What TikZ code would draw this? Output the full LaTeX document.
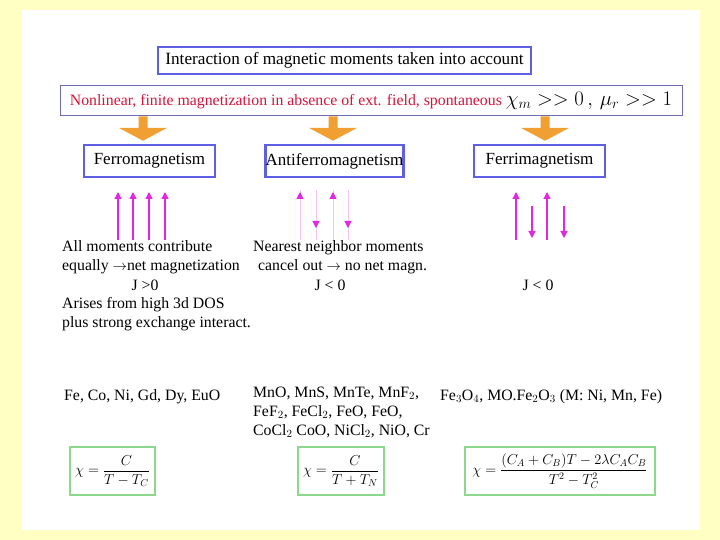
\documentclass[tikz,border=0pt]{standalone}
\usepackage{amsmath}
\usepackage{fontspec}
\setmainfont{Liberation Serif}
\usetikzlibrary{arrows.meta,calc,positioning}
\definecolor{pagebg}{HTML}{FFFFC4}
\definecolor{boxblue}{HTML}{5F5FE6}
\definecolor{framegray}{HTML}{6C6CB4}
\definecolor{redtext}{HTML}{D4143C}
\definecolor{fatorange}{HTML}{F0A032}
\definecolor{spinpink}{HTML}{E028E0}
\definecolor{spinpale}{HTML}{F2C6F2}
\definecolor{formgreen}{HTML}{8CD88C}

\begin{document}
\begin{tikzpicture}[x=1pt, y=-1pt,
  font=\fontsize{15.8}{19}\selectfont,
  spintip/.style={-{Triangle[width=7pt, length=7pt, color=spinpink]}},
  headbox/.style={draw=boxblue, line width=2.5pt, fill=white, inner sep=1pt,
    minimum height=27pt, font=\fontsize{17.2}{19}\selectfont},
  linebox/.style={draw=framegray, line width=1pt, fill=white, inner sep=1pt,
    minimum height=30pt, font=\fontsize{15.8}{18}\selectfont},
  kindbox/.style={draw=boxblue, line width=2.5pt, fill=white, inner sep=0pt,
    minimum height=32pt, font=\fontsize{17}{19}\selectfont},
  formbox/.style={draw=formgreen, line width=1.3pt, fill=white, inner sep=1pt,
    minimum height=48pt, font=\fontsize{14.5}{16}\selectfont},
  note/.style={align=left, inner sep=0pt},
  ferrospin/.style={draw=spinpink, line width=1.3pt, spintip},
  palespin/.style={draw=spinpale, line width=1pt}
]

% page
\fill[pagebg] (0,0) rectangle (720,540);
\fill[white] (22,10) rectangle (700,530);

% heading and general statement
\node[headbox, minimum width=373pt] (head) at (344.5,60.5) {Interaction of magnetic moments taken into account};
\node[linebox, minimum width=622pt] (nonlin) at (371,101)
  {\textcolor{redtext}{Nonlinear, finite magnetization in absence of ext. field, spontaneous}\ {\fontsize{19.5}{20}\selectfont$\chi_m >> 0\,,\, \mu_r >> 1$}};

% three kinds
\node[kindbox, minimum width=131pt] (ferro) at (149.5,161) {Ferromagnetism};
\node[kindbox, minimum width=137pt] (anti) at (334.5,161) {Antiferromagnetism};
\node[kindbox, minimum width=131pt] (ferri) at (539.5,161) {Ferrimagnetism};

% fat orange arrows
\foreach \x/\b in {143/ferro, 333/anti, 545/ferri}{
  \path (\x,0 |- nonlin.south) coordinate (top) (\x,0 |- \b.north) coordinate (bot);
  \fill[fatorange] ($(top)+(-4.5,0)$) -- ($(top)+(4.5,0)$)
    -- ($(top)!0.42!(bot)+(4.5,0)$) -- ($(top)!0.42!(bot)+(24,0)$)
    -- ($(bot)+(0,-3)$)
    -- ($(top)!0.42!(bot)+(-24,0)$) -- ($(top)!0.42!(bot)+(-4.5,0)$) -- cycle;
}

% moments
\foreach \x in {118,133,149,165}
  \draw[ferrospin] (\x,240) -- (\x,192);
\foreach \x in {300,316,333,348}
  \draw[palespin] (\x,190) -- (\x,240);
\foreach \x in {300,333}
  \draw[palespin, spintip] (\x,240) -- (\x,192);
\foreach \x in {316,348}
  \draw[palespin, spintip] (\x,190) -- (\x,228);
\foreach \x in {516,547}
  \draw[ferrospin] (\x,240) -- (\x,192);
\foreach \x in {532,564}
  \draw[ferrospin] (\x,206) -- (\x,238);

% descriptions
\node[note, anchor=west] (ferrodesc) at (62,257) {All moments contribute\\equally $\rightarrow$net magnetization};
\node (ferroj) at (145,285) {J >0};
\node[note, anchor=west] (ferroorigin) at (62,314) {Arises from high 3d DOS\\plus strong exchange interact.};
\node[note, anchor=west] (antidesc) at (253,257) {Nearest neighbor moments\\\hspace*{5pt}cancel out $\rightarrow$ no net magn.};
\node (antij) at (330,285) {J < 0};
\node (ferrij) at (538,285) {J < 0};

% materials
\node[note, anchor=west] (ferromat) at (64,397) {Fe, Co, Ni, Gd, Dy, EuO};
\node[note, anchor=north west, text depth=0pt] (antimat) at (253,387)
  {MnO, MnS, MnTe, MnF$_2$,\\FeF$_2$, FeCl$_2$, FeO, FeO,\\CoCl$_2$ CoO, NiCl$_2$, NiO, Cr};
\node[note, anchor=west] (ferrimat) at (440,397) {Fe$_3$O$_4$, MO.Fe$_2$O$_3$ (M: Ni, Mn, Fe)};

% susceptibilities
\node[formbox, minimum width=85pt] (ferrochi) at (112.5,471) {$\chi = \dfrac{C}{T - T_C}$};
\node[formbox, minimum width=86pt] (antichi) at (341,471) {$\chi = \dfrac{C}{T + T_N}$};
\node[formbox, minimum width=190pt] (ferrichi) at (560,471) {$\chi = \dfrac{(C_A + C_B)T - 2\lambda C_A C_B}{T^2 - T_C^2}$};
\end{tikzpicture}
\end{document}
